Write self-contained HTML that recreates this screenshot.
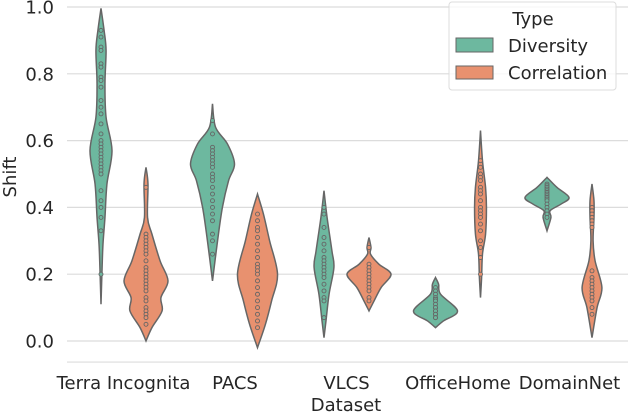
<!DOCTYPE html>
<html><head><meta charset="utf-8"><style>
body{margin:0;background:#fff}
svg text{font-family:"DejaVu Sans","Liberation Sans",sans-serif;fill:#262626}
</style></head><body>
<svg id="chart" width="628" height="414" viewBox="0 0 628 414" xmlns="http://www.w3.org/2000/svg">
<g id="grid"></g>
<g id="violins"></g>
<g id="axes"></g>
<g>
<rect x="449" y="2" width="167" height="88" rx="3" fill="#fff" fill-opacity="0.8" stroke="#dcdcdc"/>
<text x="533" y="25" font-size="18" text-anchor="middle">Type</text>
<rect x="456" y="38" width="37" height="14" fill="#6db89f" stroke="#666"/>
<text x="508" y="52" font-size="18">Diversity</text>
<rect x="456" y="66" width="37" height="13" fill="#e8916f" stroke="#666"/>
<text x="508" y="79" font-size="18">Correlation</text>
</g>
</svg>
<script>
const categories=["Terra Incognita","PACS","VLCS","OfficeHome","DomainNet"];
const yTicks=[0,0.2,0.4,0.6,0.8,1.0];
const yTickLabels=["0.0","0.2","0.4","0.6","0.8","1.0"];
// density profiles: [value, relative half-width]
const divProfiles=[
 [[0.996,0],[0.93,0.14],[0.87,0.23],[0.77,0.18],[0.67,0.23],[0.57,0.5],[0.47,0.27],[0.37,0.18],[0.29,0.09],[0.22,0.05],[0.11,0]],
 [[0.71,0],[0.64,0.14],[0.59,0.68],[0.53,1],[0.48,0.73],[0.40,0.45],[0.30,0.23],[0.18,0]],
 [[0.45,0],[0.37,0.14],[0.27,0.36],[0.22,0.45],[0.14,0.23],[0.06,0.09],[0.01,0]],
 [[0.19,0],[0.17,0.14],[0.14,0.23],[0.09,1],[0.06,0.36],[0.04,0]],
 [[0.49,0],[0.46,0.45],[0.43,1],[0.41,0.64],[0.39,0.14],[0.37,0.18],[0.33,0]]
];
const corProfiles=[
 [[0.52,0],[0.47,0.09],[0.37,0.07],[0.32,0.27],[0.24,0.64],[0.18,1],[0.13,0.68],[0.09,0.73],[0.04,0.27],[0.0,0]],
 [[0.44,0],[0.38,0.27],[0.30,0.55],[0.20,0.91],[0.12,0.64],[0.05,0.36],[-0.02,0]],
 [[0.31,0],[0.28,0.09],[0.26,0.07],[0.23,0.45],[0.20,1],[0.16,0.55],[0.12,0.23],[0.09,0]],
 [[0.63,0],[0.54,0.09],[0.46,0.23],[0.40,0.27],[0.32,0.23],[0.26,0.09],[0.19,0.05],[0.13,0]],
 [[0.47,0],[0.42,0.09],[0.37,0.09],[0.30,0.05],[0.24,0.14],[0.16,0.45],[0.10,0.23],[0.01,0]]
];
const divPoints=[
 [0.93,0.91,0.88,0.87,0.83,0.82,0.79,0.78,0.76,0.72,0.70,0.68,0.65,0.62,0.60,0.59,0.58,0.57,0.56,0.55,0.54,0.53,0.52,0.51,0.50,0.45,0.42,0.40,0.37,0.33,0.20],
 [0.66,0.62,0.58,0.57,0.56,0.55,0.54,0.53,0.52,0.50,0.49,0.48,0.46,0.44,0.42,0.40,0.38,0.36,0.32,0.30,0.26],
 [0.40,0.38,0.34,0.31,0.29,0.27,0.25,0.24,0.23,0.22,0.21,0.20,0.19,0.17,0.15,0.13,0.12,0.07],
 [0.16,0.15,0.14,0.13,0.125,0.12,0.11,0.10,0.10,0.09,0.09,0.08,0.08,0.07,0.07],
 [0.47,0.465,0.46,0.455,0.45,0.445,0.44,0.435,0.43,0.425,0.42,0.41,0.40,0.39,0.38,0.37]
];
const corPoints=[
 [0.46,0.32,0.31,0.30,0.29,0.28,0.27,0.26,0.24,0.22,0.21,0.20,0.19,0.18,0.17,0.16,0.15,0.13,0.12,0.10,0.09,0.08,0.07,0.05],
 [0.38,0.36,0.34,0.33,0.31,0.29,0.27,0.25,0.23,0.22,0.21,0.20,0.18,0.16,0.14,0.12,0.10,0.08,0.06,0.04],
 [0.28,0.23,0.22,0.21,0.20,0.19,0.18,0.17,0.16,0.15,0.13,0.12],
 [0.54,0.52,0.50,0.49,0.48,0.46,0.45,0.44,0.42,0.40,0.39,0.38,0.37,0.35,0.33,0.30,0.28,0.25,0.20],
 [0.40,0.39,0.38,0.37,0.36,0.35,0.34,0.21,0.19,0.18,0.17,0.16,0.15,0.14,0.13,0.12,0.10,0.08]
];
const NS="http://www.w3.org/2000/svg";
const y=v=>341-v*334;
const catX=i=>123.5+i*111.5;
const HW=22;
function mk(t,a,p){const e=document.createElementNS(NS,t);for(const k in a)e.setAttribute(k,a[k]);p.appendChild(e);return e;}
const grid=document.getElementById('grid');
[-0.063,...yTicks].forEach(v=>{const l=mk('line',{x1:67,x2:628,y1:y(v),y2:y(v),stroke:'#dcdcdc','stroke-width':1.2},grid);

});
const axes=document.getElementById('axes');
yTicks.forEach((v,i)=>{const t=mk('text',{x:54,y:y(v)+6.5,'font-size':18,'text-anchor':'end'},axes);t.textContent=yTickLabels[i];

});
categories.forEach((c,i)=>{const t=mk('text',{x:catX(i),y:389,'font-size':18,'text-anchor':'middle'},axes);t.textContent=c;

});
let t=mk('text',{x:346,y:411,'font-size':18,'text-anchor':'middle'},axes);t.textContent='Dataset';


t=mk('text',{x:0,y:0,'font-size':18,'text-anchor':'middle',transform:'translate(16,177) rotate(-90)'},axes);t.textContent='Shift';


function curve(pts){let d='';for(let i=0;i<pts.length-1;i++){const p0=pts[Math.max(i-1,0)],p1=pts[i],p2=pts[i+1],p3=pts[Math.min(i+2,pts.length-1)];
if(i===0)d+='M'+p1[0]+','+p1[1];
const c1=[p1[0]+(p2[0]-p0[0])/6,p1[1]+(p2[1]-p0[1])/6],c2=[p2[0]-(p3[0]-p1[0])/6,p2[1]-(p3[1]-p1[1])/6];
d+='C'+c1+' '+c2+' '+p2[0]+','+p2[1];}return d;}
const vg=document.getElementById('violins');
function violin(prof,pts,cx,fill,name){
 const g=mk('g',{},vg);
 
 
 const right=prof.map(p=>[cx+p[1]*HW,y(p[0])]);
 const left=prof.slice().reverse().map(p=>[cx-p[1]*HW,y(p[0])]);
 const d=curve(right)+'L'+curve(left).slice(1)+'Z';
 mk('path',{d:d,fill:fill,stroke:'#666','stroke-width':1.5},g);
 pts.forEach(v=>{const c=mk('circle',{cx:cx,cy:y(v),r:2,fill:fill,stroke:'#666','stroke-width':0.9},g);
 
 });
}
categories.forEach((c,i)=>{
 violin(divProfiles[i],divPoints[i],catX(i)-22.5,'#6db89f','violin-diversity');
 violin(corProfiles[i],corPoints[i],catX(i)+22.5,'#e8916f','violin-correlation');
});
</script>
</body></html>
